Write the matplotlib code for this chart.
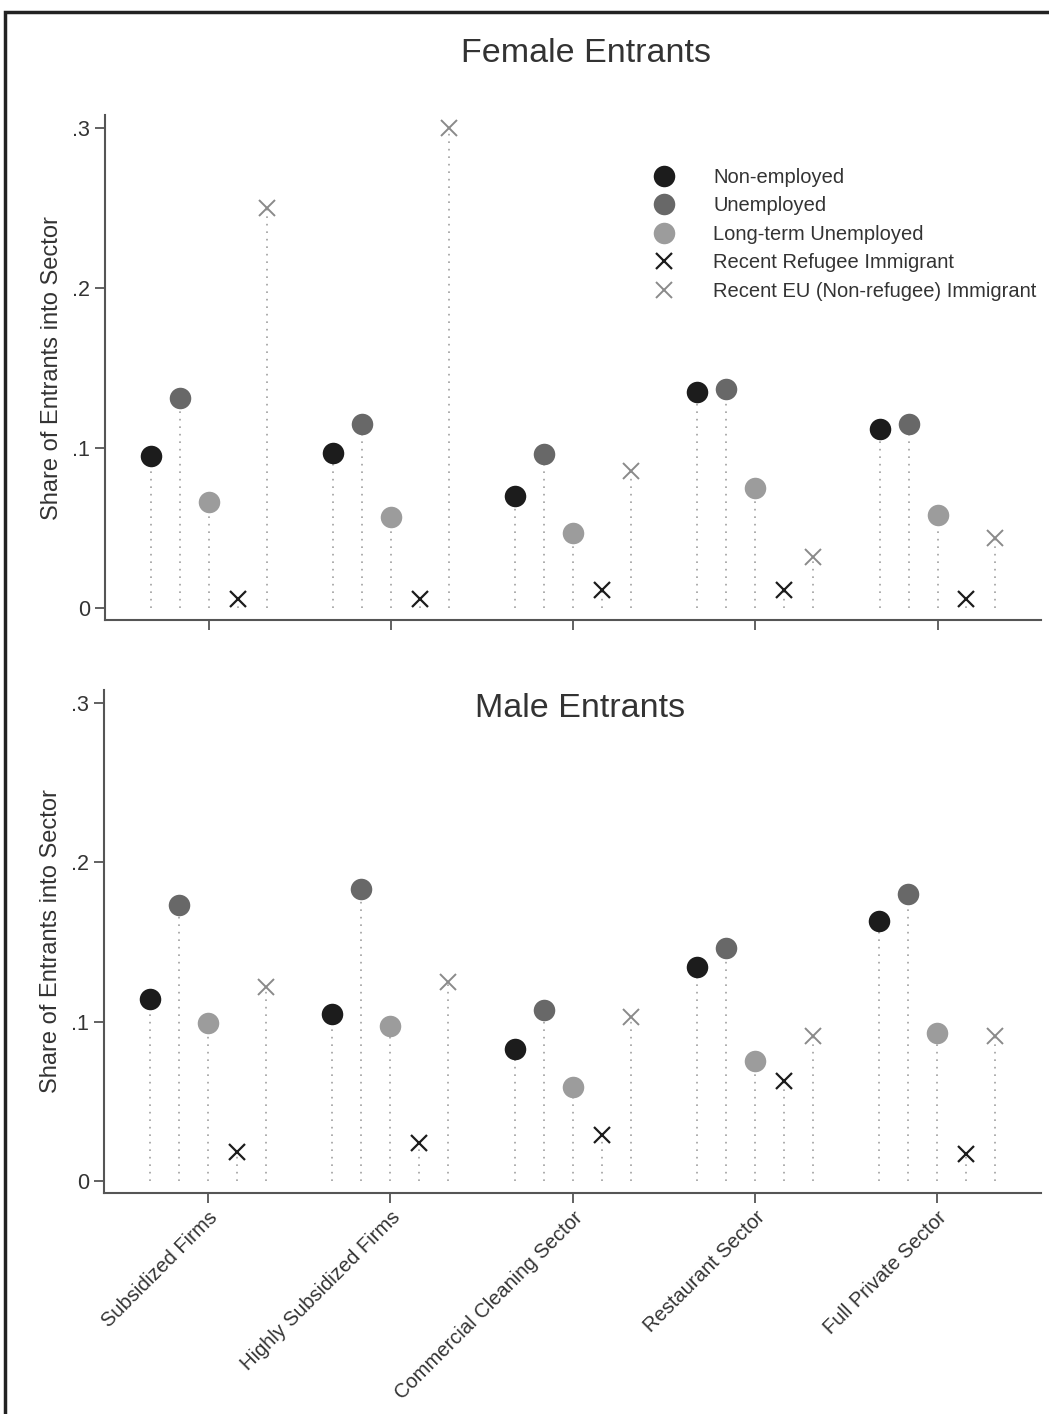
import numpy as np
import matplotlib as mpl
import matplotlib.pyplot as plt
from matplotlib.patches import Rectangle

mpl.rcParams['font.family'] = ['Liberation Sans', 'DejaVu Sans']
mpl.rcParams['text.color'] = '#333333'

sectors = ['Subsidized Firms', 'Highly Subsidized Firms', 'Commercial Cleaning Sector',
           'Restaurant Sector', 'Full Private Sector']
groups = ['Non-employed', 'Unemployed', 'Long-term Unemployed',
          'Recent Refugee Immigrant', 'Recent EU (Non-refugee) Immigrant']

# share of entrants into sector, one list per group (order of sectors)
female_nonemp = [0.095, 0.097, 0.070, 0.135, 0.112]
female_unemp = [0.131, 0.115, 0.096, 0.137, 0.115]
female_ltu = [0.066, 0.057, 0.047, 0.075, 0.058]
female_refugee = [0.0055, 0.0055, 0.011, 0.0115, 0.0055]
female_eu = [0.250, 0.300, 0.0855, 0.032, 0.0435]

male_nonemp = [0.114, 0.105, 0.083, 0.134, 0.163]
male_unemp = [0.173, 0.183, 0.107, 0.146, 0.180]
male_ltu = [0.099, 0.097, 0.059, 0.075, 0.093]
male_refugee = [0.018, 0.024, 0.029, 0.063, 0.017]
male_eu = [0.122, 0.125, 0.103, 0.091, 0.091]

yticks = [0, 0.1, 0.2, 0.3]
yticklabels = ['0', '.1', '.2', '.3']

styles = [  # marker, colour, size, line width
    ('o', '#1c1c1c', 15.5, 0),
    ('o', '#686868', 15.5, 0),
    ('o', '#9c9c9c', 15.5, 0),
    ('x', '#1c1c1c', 11, 1.6),
    ('x', '#8a8a8a', 11, 1.4),
]

fig = plt.figure(figsize=(10.49, 14.14), dpi=100)
ax1 = fig.add_axes([0.100, 0.5615, 0.892, 0.357])
ax2 = fig.add_axes([0.099, 0.1563, 0.893, 0.3557])

x = np.arange(len(sectors))
offsets = np.array([-2, -1, 0, 1, 2]) * 0.159

def draw(ax, series):
    for (vals, (m, c, ms, lw), off, name) in zip(series, styles, offsets, groups):
        xs = x + off
        ax.vlines(xs, 0, vals, colors='#a0a0a0', linestyles=(0, (1, 3.5)), linewidth=1.2, zorder=1)
        if m == 'o':
            ax.plot(xs, vals, linestyle='none', marker='o', markersize=ms, color=c,
                    markeredgewidth=0, label=name, zorder=3)
        else:
            ax.plot(xs, vals, linestyle='none', marker='x', markersize=ms, color=c,
                    markeredgewidth=lw, label=name, zorder=3)
    ax.set_xlim(-0.571, 4.566)
    ax.set_ylim(-0.0075, 0.308)
    ax.set_yticks(yticks)
    ax.set_yticklabels(yticklabels)
    ax.set_xticks(x)
    for s in ['top', 'right']:
        ax.spines[s].set_visible(False)
    for s in ['left', 'bottom']:
        ax.spines[s].set_color('#555555')
        ax.spines[s].set_linewidth(1.5)
    ax.tick_params(axis='both', colors='#555555', labelcolor='#333333', length=7, width=1.3,
                   labelsize=15.5)
    ax.set_ylabel('Share of Entrants into Sector', fontsize=17, color='#333333', labelpad=7)

draw(ax1, [female_nonemp, female_unemp, female_ltu, female_refugee, female_eu])
draw(ax2, [male_nonemp, male_unemp, male_ltu, male_refugee, male_eu])

ax1.set_xticklabels([])
ax2.set_xticklabels(sectors, rotation=45, ha='right', rotation_mode='anchor', fontsize=14.5)

fig.text(0.5585, 0.962, 'Female Entrants', fontsize=24.5, ha='center', va='center')
fig.text(0.553, 0.499, 'Male Entrants', fontsize=24.5, ha='center', va='center')

leg = ax1.legend(loc='upper left', bbox_to_anchor=(0.576, 0.912), frameon=False,
                 fontsize=14.5, labelspacing=0.47, handletextpad=1.85, handlelength=1.2,
                 borderaxespad=0)

# scanned page frame
fig.patches.append(Rectangle((5 / 1049, -0.05), 1.1, 1 - 12 / 1414 + 0.05,
                             transform=fig.transFigure, fill=False,
                             edgecolor='#222222', linewidth=2.5))

fig.savefig('out.png', dpi=100)
